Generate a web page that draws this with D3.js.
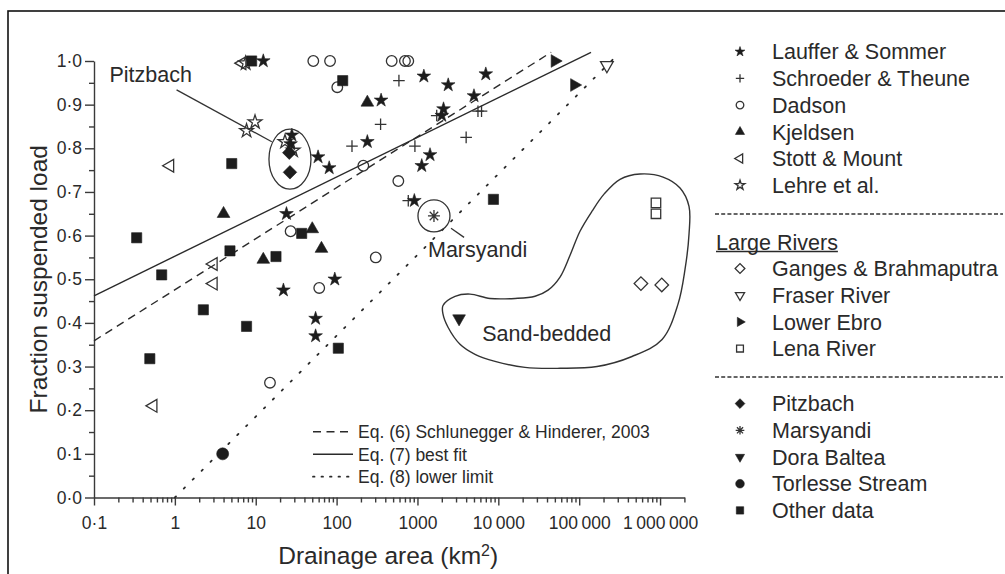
<!DOCTYPE html>
<html>
<head>
<meta charset="utf-8">
<script src="https://cdn.jsdelivr.net/npm/d3@7"></script>
<style>
  body { margin: 0; background: #fff; }
  svg { display: block; }
  text { font-family: "Liberation Sans", Arial, Helvetica, sans-serif; fill: #2a2a2a; }
</style>
</head>
<body>
<svg width="1005" height="574"></svg>
<script>
// ---- data: [drainage area km2, fraction suspended load] ----
var lauffer = [[12.4,1.0],[28,0.83],[27,0.81],[24,0.65],[59,0.78],[81,0.755],[240,0.815],
    [355,0.91],[1200,0.965],[2400,0.945],[7000,0.97],[5000,0.92],[2100,0.89],[2000,0.875],
    [1430,0.785],[1130,0.76],[915,0.68],[95,0.50],[22,0.475],[55,0.41],[55,0.37]];
var schroeder = [[590,0.955],[1730,0.875],[6200,0.885],[5600,0.885],[350,0.855],[155,0.805],
    [930,0.805],[4000,0.825],[770,0.68]];
var dadson = [[51.5,1.0],[83,1.0],[480,1.0],[700,1.0],[770,1.0],[102,0.94],[214,0.76],
    [580,0.725],[27,0.61],[305,0.55],[61,0.48],[15,0.263]];
var kjeldsen = [[240,0.905],[4.0,0.65],[12.4,0.545],[50,0.615],[65,0.57]];
var stott = [[6.8,0.995],[0.87,0.76],[3.0,0.535],[3.0,0.49],[0.54,0.21]];
var lehre = [[7.5,0.995],[7.7,0.84],[9.8,0.86],[23,0.815],[29,0.795]];
var ganges = [[5.8e5,0.49],[1.05e6,0.487]];
var fraser = [[2.2e5,0.99]];
var ebro = [[5.0e4,1.0],[8.7e4,0.945]];
var lena = [[8.9e5,0.675],[8.9e5,0.65]];
var pitzbach = [[26,0.79],[26.5,0.745]];
var marsyandi = [[1600,0.645]];
var doraBaltea = [[3270,0.41]];
var torlesse = [[3.9,0.10]];
var otherData = [[8.9,1.0],[119,0.955],[5.05,0.765],[0.337,0.595],[0.687,0.51],[4.8,0.565],
    [17.8,0.552],[37,0.605],[2.25,0.43],[7.7,0.392],[0.49,0.318],[105,0.342],[8700,0.683]];

// equation lines (end points)
var eq6 = [[0.1,0.359],[45000,1.02]];
var eq7 = [[0.1,0.462],[1.4e5,1.02]];
var eq8 = [[1,0],[3.2e5,1.02]];

// sand-bedded outline, log10(area) and fraction
var sandLogA = [3.316,3.465,3.650,3.897,4.207,4.454,4.615,4.763,4.887,5.010,5.159,5.307,5.505,
    5.752,6.037,6.247,6.358,6.358,6.309,6.222,6.025,5.653,5.221,4.763,4.330,3.959,3.712,3.526,3.378,3.316];
var sandFrac = [0.440,0.461,0.466,0.456,0.456,0.461,0.475,0.505,0.555,0.610,0.656,0.695,0.729,
    0.741,0.734,0.709,0.667,0.603,0.523,0.443,0.362,0.323,0.300,0.296,0.298,0.312,0.328,0.351,0.390,0.420];

// ticks
var xTickValues = [0.1,1,10,100,1000,1e4,1e5,1e6];
var xTickLabels = ['0\u00b71','1','10','100','1000','10\u2009000','100\u2009000','1\u2009000\u2009000'];
var yTickValues = [0,0.1,0.2,0.3,0.4,0.5,0.6,0.7,0.8,0.9,1.0];
var yTickLabels = ['0\u00b70','0\u00b71','0\u00b72','0\u00b73','0\u00b74','0\u00b75','0\u00b76','0\u00b77','0\u00b78','0\u00b79','1\u00b70'];

var ink = '#1d1d1d';
var svg = d3.select('svg');

// outer frame of the figure
svg.append('rect')
    .attr('x', 8).attr('y', 11)
    .attr('width', 1100).attr('height', 700)
    .attr('fill', 'none').attr('stroke', '#111').attr('stroke-width', 1.6);

var x = d3.scaleLog().domain([0.1, 2e6]).range([94, 684.4]);
var y = d3.scaleLinear().domain([0, 1]).range([497.5, 61]);

// ---- axes ----
var xAxisG = svg.append('g').attr('transform', 'translate(0,' + y(0) + ')');
xAxisG.call(d3.axisBottom(x).tickValues(xTickValues)
    .tickFormat(function(d, i) { return xTickLabels[i]; })
    .tickSize(8).tickSizeOuter(0).tickPadding(11));
var xMinor = [];
for (var e = -1; e <= 6; e++) {
    for (var m = 2; m <= 9; m++) {
        var v = m * Math.pow(10, e);
        if (v <= 2e6) xMinor.push(v);
    }
}
svg.append('g').attr('transform', 'translate(0,' + y(0) + ')')
    .call(d3.axisBottom(x).tickValues(xMinor).tickFormat('').tickSize(5).tickSizeOuter(0))
    .select('.domain').remove();

var yAxisG = svg.append('g').attr('transform', 'translate(' + x(0.1) + ',0)');
yAxisG.call(d3.axisLeft(y).tickValues(yTickValues)
    .tickFormat(function(d, i) { return yTickLabels[i]; })
    .tickSize(9).tickSizeOuter(0).tickPadding(3));
svg.append('g').attr('transform', 'translate(' + x(0.1) + ',0)')
    .call(d3.axisLeft(y).tickValues(d3.range(0.05, 1, 0.1)).tickFormat('').tickSize(5).tickSizeOuter(0))
    .select('.domain').remove();

svg.selectAll('.domain, .tick line').attr('stroke', '#3a3a3a').attr('stroke-width', 1.4);
svg.selectAll('.tick text').style('font-size', '17.5px').attr('fill', '#2a2a2a')
    .style('font-family', '"Liberation Sans", Arial, sans-serif');

svg.append('text')
    .attr('transform', 'translate(47,' + y(0.5) + ') rotate(-90)')
    .attr('text-anchor', 'middle')
    .style('font-size', '24.5px')
    .text('Fraction suspended load');

var xTitle = svg.append('text')
    .attr('x', (x(0.1) + x(2e6)) / 2 - 1).attr('y', 564)
    .attr('text-anchor', 'middle')
    .style('font-size', '24.5px');
xTitle.append('tspan').text('Drainage area (km');
xTitle.append('tspan').attr('baseline-shift', 'super').style('font-size', '16px').text('2');
xTitle.append('tspan').text(')');

// ---- equation lines ----
var line = d3.line().x(function(d) { return x(d[0]); }).y(function(d) { return y(d[1]); });
var eqLines = [
    {pts: eq6, dash: '8,5.5', label: 'Eq. (6) Schlunegger & Hinderer, 2003'},
    {pts: eq7, dash: null, label: 'Eq. (7) best fit'},
    {pts: eq8, dash: '1.6,11', label: 'Eq. (8) lower limit'}
];
eqLines.forEach(function(l) {
    svg.append('path').datum(l.pts)
        .attr('d', line)
        .attr('fill', 'none').attr('stroke', '#2a2a2a')
        .attr('stroke-width', l.dash === '1.6,11' ? 1.8 : 1.4)
        .attr('stroke-linecap', l.dash === '1.6,11' ? 'round' : 'butt')
        .attr('stroke-dasharray', l.dash);
});

// ---- sand-bedded outline ----
var sandPts = sandLogA.map(function(l, i) { return [Math.pow(10, l), sandFrac[i]]; });
svg.append('path').datum(sandPts)
    .attr('d', d3.line().x(function(d) { return x(d[0]); }).y(function(d) { return y(d[1]); })
        .curve(d3.curveCatmullRomClosed.alpha(0.5)))
    .attr('fill', 'none').attr('stroke', '#333').attr('stroke-width', 1.4);

// ---- marker shapes ----
function shape(kind, s) {
    var r;
    switch (kind) {
        case 'star': return d3.symbol(d3.symbolStar, 58 * s * s)();
        case 'circle': return d3.symbol(d3.symbolCircle, Math.PI * 28 * s * s)();
        case 'dot': return d3.symbol(d3.symbolCircle, Math.PI * 36 * s * s)();
        case 'square': return d3.symbol(d3.symbolSquare, 104 * s * s)();
        case 'osquare': return d3.symbol(d3.symbolSquare, 90 * s * s)();
        case 'triUp': case 'triLeft': case 'triRight': case 'triDown':
            return d3.symbol(d3.symbolTriangle, 70 * s * s)();
        case 'diamond': return d3.symbol(d3.symbolSquare, 92 * s * s)();
        case 'plus':
            r = 5.8 * s;
            return 'M' + (-r) + ',0H' + r + 'M0,' + (-r) + 'V' + r;
        case 'asterisk':
            r = 6 * s;
            var p = d3.path();
            [0, 45, 90, 135].forEach(function(a) {
                var c = Math.cos(a * Math.PI / 180) * r, sn = Math.sin(a * Math.PI / 180) * r;
                p.moveTo(-c, -sn); p.lineTo(c, sn);
            });
            return p.toString();
    }
}
var rotation = {triLeft: -90, triRight: 90, triDown: 180, diamond: 45};

var series = [
    {label: 'Lauffer & Sommer', pts: lauffer, kind: 'star', filled: true},
    {label: 'Schroeder & Theune', pts: schroeder, kind: 'plus', filled: false},
    {label: 'Dadson', pts: dadson, kind: 'circle', filled: false},
    {label: 'Kjeldsen', pts: kjeldsen, kind: 'triUp', filled: true},
    {label: 'Stott & Mount', pts: stott, kind: 'triLeft', filled: false},
    {label: 'Lehre et al.', pts: lehre, kind: 'star', filled: false},
    {label: 'Ganges & Brahmaputra', pts: ganges, kind: 'diamond', filled: false},
    {label: 'Fraser River', pts: fraser, kind: 'triDown', filled: false},
    {label: 'Lower Ebro', pts: ebro, kind: 'triRight', filled: true},
    {label: 'Lena River', pts: lena, kind: 'osquare', filled: false},
    {label: 'Pitzbach', pts: pitzbach, kind: 'diamond', filled: true},
    {label: 'Marsyandi', pts: marsyandi, kind: 'asterisk', filled: false},
    {label: 'Dora Baltea', pts: doraBaltea, kind: 'triDown', filled: true},
    {label: 'Torlesse Stream', pts: torlesse, kind: 'dot', filled: true},
    {label: 'Other data', pts: otherData, kind: 'square', filled: true}
];

function styleMark(sel, sr, s) {
    sel.attr('d', shape(sr.kind, s))
        .attr('fill', sr.filled ? ink : 'none')
        .attr('stroke', sr.filled ? ink : '#333')
        .attr('stroke-width', sr.filled ? 0.6 : 1.3)
        .attr('stroke-linejoin', 'miter');
}

// draw order: open symbols first, filled ones on top
var drawOrder = [2, 5, 4, 1, 6, 7, 9, 11, 0, 3, 8, 10, 12, 13, 14];
drawOrder.forEach(function(i) {
    var sr = series[i];
    var rot = rotation[sr.kind] || 0;
    svg.append('g').selectAll('path').data(sr.pts).enter().append('path')
        .attr('transform', function(d) {
            return 'translate(' + x(d[0]) + ',' + y(d[1]) + ') rotate(' + rot + ')';
        })
        .call(styleMark, sr, 1);
});

// ---- annotations ----
var pitzEllipse = {a: 26.5, f: 0.775, rx: 21, ry: 30};
svg.append('ellipse')
    .attr('cx', x(pitzEllipse.a)).attr('cy', y(pitzEllipse.f))
    .attr('rx', pitzEllipse.rx).attr('ry', pitzEllipse.ry)
    .attr('fill', 'none').attr('stroke', '#333').attr('stroke-width', 1.3);
svg.append('line')
    .attr('x1', x(1.05)).attr('y1', y(0.934))
    .attr('x2', x(15.8)).attr('y2', y(0.815))
    .attr('stroke', '#333').attr('stroke-width', 1.3);
svg.append('text').attr('x', x(0.155)).attr('y', y(0.952))
    .style('font-size', '21.5px').text('Pitzbach');

svg.append('circle')
    .attr('cx', x(marsyandi[0][0])).attr('cy', y(marsyandi[0][1])).attr('r', 16)
    .attr('fill', 'none').attr('stroke', '#333').attr('stroke-width', 1.3);
svg.append('line')
    .attr('x1', x(2600)).attr('y1', y(0.617))
    .attr('x2', x(3770)).attr('y2', y(0.596))
    .attr('stroke', '#333').attr('stroke-width', 1.3);
svg.append('text').attr('x', x(1350)).attr('y', y(0.551))
    .style('font-size', '21.5px').text('Marsyandi');

svg.append('text').attr('x', x(39700)).attr('y', y(0.3585))
    .attr('text-anchor', 'middle')
    .style('font-size', '21.5px').text('Sand-bedded');

// equation legend
eqLines.forEach(function(l, i) {
    var ly = 431.7 + i * 22.5;
    svg.append('line').attr('x1', 313).attr('x2', 353).attr('y1', ly).attr('y2', ly)
        .attr('stroke', '#2a2a2a')
        .attr('stroke-width', l.dash === '1.6,11' ? 1.8 : 1.4)
        .attr('stroke-linecap', l.dash === '1.6,11' ? 'round' : 'butt')
        .attr('stroke-dasharray', l.dash === '1.6,11' ? '1.5,7' : l.dash);
    svg.append('text').attr('x', 358).attr('y', ly).attr('dy', '0.36em')
        .style('font-size', '17.5px').text(l.label);
});

// ---- symbol legend ----
var legendRowsY = [51.7, 78.4, 105.1, 131.8, 158.5, 185.2,
                   268.5, 295.2, 321.9, 348.6,
                   403.6, 430.3, 457, 483.7, 510.4];
var leg = svg.append('g');
series.forEach(function(sr, i) {
    var ly = legendRowsY[i];
    var rot = rotation[sr.kind] || 0;
    leg.append('path')
        .attr('transform', 'translate(740,' + ly + ') rotate(' + rot + ')')
        .call(styleMark, sr, 0.72);
    leg.append('text').attr('x', 772).attr('y', ly).attr('dy', '0.36em')
        .style('font-size', '21.5px').text(sr.label);
});
[214, 377].forEach(function(sy) {
    leg.append('line').attr('x1', 715).attr('x2', 1003).attr('y1', sy).attr('y2', sy)
        .attr('stroke', '#333').attr('stroke-width', 1.3).attr('stroke-dasharray', '4,2.2');
});
var largeRivers = leg.append('text').attr('x', 716).attr('y', 242).attr('dy', '0.36em')
    .style('font-size', '21.5px').text('Large Rivers');
var lrWidth = largeRivers.node().getComputedTextLength();
leg.append('line').attr('x1', 716).attr('x2', 716 + lrWidth).attr('y1', 251.5).attr('y2', 251.5)
    .attr('stroke', '#2a2a2a').attr('stroke-width', 1.5);
</script>
</body>
</html>
